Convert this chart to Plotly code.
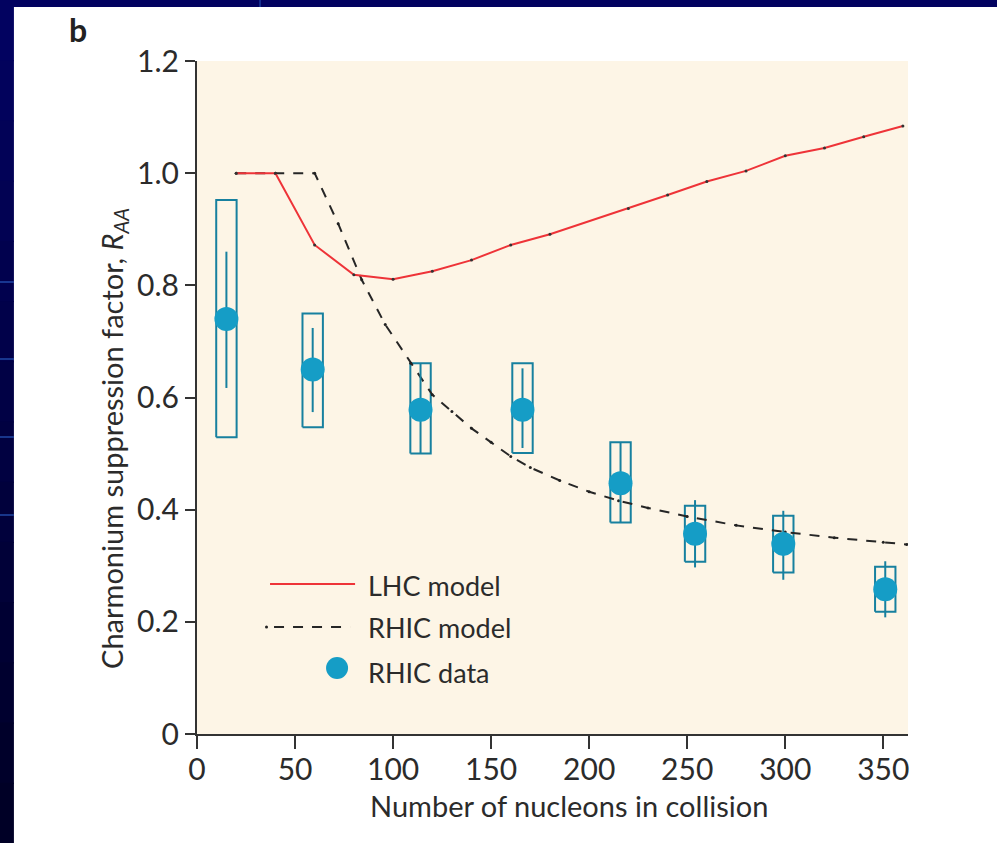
import plotly.graph_objects as go

# --- RHIC J/psi suppression data (Npart, R_AA, stat. and syst. bounds) ---
npart = [15, 59, 114, 166, 216, 254, 299, 351]
raa = [0.740, 0.650, 0.578, 0.578, 0.447, 0.357, 0.339, 0.258]
stat_hi = [0.860, 0.724, 0.661, 0.652, 0.520, 0.417, 0.398, 0.308]
stat_lo = [0.617, 0.574, 0.500, 0.510, 0.377, 0.297, 0.275, 0.208]
sys_hi = [0.952, 0.750, 0.661, 0.661, 0.520, 0.407, 0.389, 0.298]
sys_lo = [0.529, 0.547, 0.500, 0.501, 0.377, 0.307, 0.288, 0.218]

# --- model curves ---
lhc_x = [20, 40, 60, 80, 100, 120, 140, 160, 180, 220, 240, 260, 280, 300, 320, 340, 360]
lhc_y = [1.000, 1.000, 0.872, 0.819, 0.811, 0.825, 0.845, 0.872, 0.891, 0.937,
         0.961, 0.985, 1.004, 1.031, 1.045, 1.065, 1.084]

rhic_x = [20, 40, 60, 72, 84, 96, 109, 120, 130, 140, 150, 160, 170, 185, 200,
          215, 230, 250, 275, 300, 325, 350, 362]
rhic_y = [1.000, 1.000, 1.000, 0.910, 0.810, 0.730, 0.661, 0.605, 0.575, 0.545,
          0.520, 0.495, 0.475, 0.452, 0.432, 0.416, 0.403, 0.388, 0.372, 0.360,
          0.350, 0.342, 0.338]

y_ticks = [0, 0.2, 0.4, 0.6, 0.8, 1.0, 1.2]
y_ticklabels = ["0", "0.2", "0.4", "0.6", "0.8", "1.0", "1.2"]
x_ticks = [0, 50, 100, 150, 200, 250, 300, 350]

legend_labels = ["LHC model", "RHIC model", "RHIC data"]

# --- styling ---
FONT = "Lato"
TXT = "#2b2b2b"
RED = "#ee3338"
TEAL_DARK = "#17809f"
TEAL = "#159dc6"
CREAM = "#fdf5e6"
NAVY_TOP = (2, 2, 96)
NAVY_BOT = (0, 0, 38)
BOX_HALF = 5.2

W, H = 997, 843
L, R, T, B = 197, 907.7, 61, 734


def px(x):
    return (x - L) / (R - L)


def py(y):
    return (B - y) / (B - T)


fig = go.Figure()

# systematic-uncertainty boxes
bx, by = [], []
for x, lo, hi in zip(npart, sys_lo, sys_hi):
    bx += [x - BOX_HALF, x + BOX_HALF, x + BOX_HALF, x - BOX_HALF, x - BOX_HALF, None]
    by += [lo, lo, hi, hi, lo, None]
fig.add_trace(go.Scatter(x=bx, y=by, mode="lines", line=dict(color=TEAL_DARK, width=2),
                         hoverinfo="skip", showlegend=False))

# model curves
fig.add_trace(go.Scatter(x=rhic_x, y=rhic_y, mode="lines+markers", name="RHIC model",
                         line=dict(color="#262626", width=2, dash="10px,9px"),
                         marker=dict(size=3, color="#222222"), showlegend=False))
fig.add_trace(go.Scatter(x=lhc_x, y=lhc_y, mode="lines+markers", name="LHC model",
                         line=dict(color=RED, width=2),
                         marker=dict(size=3, color="#333333"), showlegend=False))

# data points with statistical error bars
fig.add_trace(go.Scatter(
    x=npart, y=raa, mode="markers", name="RHIC data",
    marker=dict(size=24, color=TEAL, line=dict(width=0)),
    error_y=dict(type="data", symmetric=False,
                 array=[h - v for h, v in zip(stat_hi, raa)],
                 arrayminus=[v - l for v, l in zip(raa, stat_lo)],
                 color=TEAL_DARK, thickness=2, width=0),
    showlegend=False))

shapes = []
# slide frame: navy strips along the left and top edges
n_seg = 14
for i in range(n_seg):
    f = i / (n_seg - 1)
    c = tuple(int(round(a + (b - a) * f)) for a, b in zip(NAVY_TOP, NAVY_BOT))
    y0 = H * i / n_seg
    y1 = H * (i + 1) / n_seg + 1
    shapes.append(dict(type="rect", xref="paper", yref="paper",
                       x0=px(0), x1=px(14), y0=py(y1), y1=py(y0),
                       fillcolor="rgb(%d,%d,%d)" % c, line=dict(width=0), layer="above"))
shapes.append(dict(type="rect", xref="paper", yref="paper",
                   x0=px(0), x1=px(W), y0=py(7), y1=py(0),
                   fillcolor="rgb(%d,%d,%d)" % NAVY_TOP, line=dict(width=0), layer="above"))
for gy in [282, 359, 437, 515]:
    shapes.append(dict(type="line", xref="paper", yref="paper",
                       x0=px(0), x1=px(14), y0=py(gy), y1=py(gy),
                       line=dict(color="rgba(40,90,190,0.8)", width=1.5), layer="above"))
shapes.append(dict(type="line", xref="paper", yref="paper",
                   x0=px(260), x1=px(260), y0=py(7), y1=py(0),
                   line=dict(color="rgba(40,90,190,0.8)", width=1.2), layer="above"))

# legend keys
shapes.append(dict(type="line", xref="paper", yref="paper",
                   x0=px(270), x1=px(355), y0=py(584), y1=py(584),
                   line=dict(color=RED, width=2)))
shapes.append(dict(type="line", xref="paper", yref="paper",
                   x0=px(274), x1=px(350), y0=py(627), y1=py(627),
                   line=dict(color="#262626", width=2, dash="10px,9px")))
shapes.append(dict(type="circle", xref="paper", yref="paper",
                   x0=px(265), x1=px(268), y0=py(628.5), y1=py(625.5),
                   fillcolor="#222222", line=dict(width=0)))
shapes.append(dict(type="circle", xref="paper", yref="paper",
                   x0=px(326), x1=px(348), y0=py(679), y1=py(657),
                   fillcolor=TEAL, line=dict(width=0)))

annotations = []
for label, ly in zip(legend_labels, [585, 627, 672]):
    annotations.append(dict(text=label, xref="paper", yref="paper", x=px(366), y=py(ly),
                            xanchor="left", yanchor="middle", showarrow=False,
                            font=dict(family=FONT, size=27, color=TXT)))

annotations.append(dict(text="<b>b</b>", xref="paper", yref="paper", x=px(78), y=py(30),
                        xanchor="center", yanchor="middle", showarrow=False,
                        font=dict(family=FONT, size=32, color="#222222")))
annotations.append(dict(text="Number of nucleons in collision", xref="paper", yref="paper",
                        x=px(569), y=py(805), xanchor="center", yanchor="middle",
                        showarrow=False, font=dict(family=FONT, size=29, color=TXT)))
annotations.append(dict(text="Charmonium suppression factor, <i>R</i><sub><i>AA</i></sub>",
                        xref="paper", yref="paper", x=px(113), y=py(438), textangle=-90,
                        xanchor="center", yanchor="middle", showarrow=False,
                        font=dict(family=FONT, size=29, color=TXT)))

fig.update_layout(
    width=W, height=H,
    margin=dict(l=L, r=W - R, t=T, b=H - B, pad=0),
    paper_bgcolor="white",
    plot_bgcolor=CREAM,
    font=dict(family=FONT, color=TXT),
    shapes=shapes,
    annotations=annotations,
    showlegend=False,
)
fig.update_xaxes(range=[0, 362.6], tickvals=x_ticks, ticks="outside", ticklen=13, tickwidth=2,
                 tickcolor="#333333", showline=True, linecolor="#333333", linewidth=2,
                 showgrid=False, zeroline=False, ticklabelstandoff=-5,
                 tickfont=dict(family=FONT, size=30, color=TXT))
fig.update_yaxes(range=[0, 1.2], tickvals=y_ticks, ticktext=y_ticklabels, ticks="outside",
                 ticklen=10, tickwidth=2, tickcolor="#333333", showline=True,
                 linecolor="#333333", linewidth=2, showgrid=False, zeroline=False,
                 tickfont=dict(family=FONT, size=30, color=TXT))

fig.write_html("out.html")
